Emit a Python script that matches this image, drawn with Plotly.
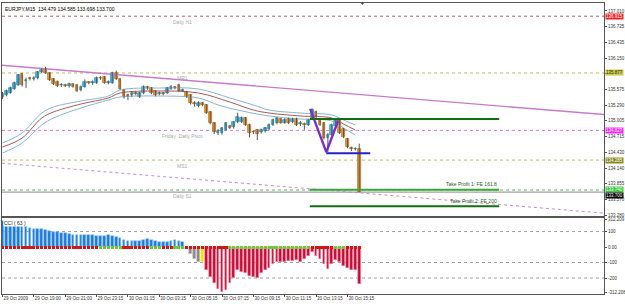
import plotly.graph_objects as go

# ---------------- data ----------------
bars = list(range(92))
opens = [135.44,135.47,135.52,135.59,135.66,135.85,135.73,135.78,135.77,135.78,
         135.89,135.95,135.87,135.76,135.72,135.65,135.66,135.64,135.67,135.66,
         135.56,135.63,135.71,135.69,135.70,135.79,135.80,135.70,135.70,135.88,
         135.76,135.57,135.47,135.47,135.51,135.44,135.51,135.61,135.60,135.54,
         135.50,135.51,135.51,135.59,135.62,135.66,135.55,135.53,135.47,135.33,
         135.28,135.33,135.29,135.16,134.96,134.78,134.78,134.84,134.90,134.89,
         134.98,134.98,135.05,134.93,134.80,134.83,134.80,134.82,134.85,134.93,
         134.96,135.03,134.97,135.03,134.98,135.04,134.94,134.95,134.93,135.05,
         135.17,135.03,134.96,134.69,134.75,134.90,135.02,134.85,134.67,134.50,
         134.48,134.479]
highs = [135.53,135.57,135.63,135.72,135.86,135.88,135.79,135.81,135.82,135.91,
         135.96,135.99,135.89,135.78,135.74,135.69,135.68,135.70,135.69,135.67,
         135.65,135.76,135.73,135.74,135.81,135.82,135.82,135.74,135.90,135.92,
         135.78,135.58,135.50,135.54,135.54,135.53,135.65,135.64,135.62,135.56,
         135.54,135.53,135.62,135.66,135.64,135.68,135.59,135.55,135.49,135.36,
         135.36,135.35,135.31,135.18,134.98,134.85,134.89,134.98,134.93,135.00,
         135.15,135.08,135.07,134.95,134.83,134.85,134.86,134.89,134.95,135.04,
         135.07,135.05,135.05,135.06,135.06,135.06,135.00,134.97,135.04,135.23,
         135.19,135.05,134.98,134.78,134.95,135.04,135.05,134.87,134.69,134.53,
         134.52,134.585]
lows = [135.40,135.45,135.50,135.57,135.64,135.63,135.60,135.74,135.74,135.76,
        135.87,135.86,135.73,135.66,135.62,135.62,135.62,135.61,135.61,135.53,
        135.54,135.61,135.67,135.66,135.68,135.75,135.68,135.67,135.68,135.75,
        135.57,135.41,135.38,135.44,135.47,135.42,135.49,135.57,135.49,135.45,
        135.47,135.47,135.49,135.57,135.58,135.53,135.53,135.42,135.30,135.26,
        135.25,135.27,135.13,134.94,134.76,134.74,134.75,134.82,134.85,134.86,
        134.96,134.96,134.91,134.70,134.76,134.65,134.77,134.79,134.83,134.91,
        134.94,134.95,134.95,134.94,134.96,134.91,134.91,134.84,134.91,135.03,
        135.05,134.91,134.66,134.43,134.73,134.88,134.76,134.69,134.50,134.45,
        134.46,133.698]
closes = [135.50,135.55,135.60,135.69,135.84,135.66,135.75,135.77,135.79,135.89,
          135.93,135.88,135.75,135.68,135.64,135.66,135.64,135.67,135.63,135.55,
          135.63,135.71,135.70,135.72,135.79,135.78,135.70,135.72,135.88,135.77,
          135.59,135.44,135.46,135.51,135.50,135.51,135.62,135.60,135.51,135.47,
          135.51,135.50,135.60,135.62,135.61,135.55,135.56,135.44,135.33,135.31,
          135.33,135.29,135.15,134.96,134.80,134.82,134.87,134.96,134.88,134.98,
          135.07,135.05,134.93,134.78,134.79,134.76,134.83,134.87,134.93,135.02,
          135.05,134.97,135.02,134.96,135.04,134.93,134.97,134.93,135.02,135.20,
          135.07,134.93,134.69,134.75,134.93,135.02,134.78,134.71,134.52,134.48,
          134.49,133.700]

cci = [168,170,165,160,160,150,135,125,118,118,115,110,105,97,95,92,88,84,80,80,
       78,77,76,75,74,74,74,76,68,62,55,45,40,38,38,40,45,52,48,40,35,33,34,38,45,
       38,30,-15,-45,-75,-95,-95,-150,-195,-232,-270,-290,-275,-230,-200,-150,-160,
       -165,-185,-195,-200,-170,-150,-135,-110,-100,-100,-95,-92,-88,-85,-95,-80,
       -60,-35,-55,-75,-110,-140,-110,-85,-95,-125,-135,-150,-150,-240]
# 1 = green state, 0 = red state (markers on the zero line)
cci_state = [0,0,0,0,0,0,0,0,0,0,0,0,0,0,0,0,0,0,0,0,0,0,0,0,0,
             1,1,1,1,1,1, 0,0,0,0,0,0,0, 1,1,1, 0,0,0, 1,1,1,
             0,0,0,0,0,0,0,0,0,0,0,
             1,1,1,1,1,1,1,1,1,1,1,1,1,1,1,1,1,1,1,1,1,
             0,0,0,0,0,0, 1,1,1, 0,0,0,0]

# moving-average envelope (bar index, price)
env_top_k = [0, 5, 10, 13, 20, 27, 30, 40, 50, 58, 64, 68, 76, 84, 87, 90]
env_top_p = [134.597,134.780,135.145,135.255,135.365,135.456,135.566,135.602,
             135.584,135.420,135.292,135.200,135.145,135.109,135.017,134.926]
env_mid_k = [0, 5, 10, 13, 20, 27, 30, 40, 50, 58, 64, 68, 76, 84, 87, 90]
env_mid_p = [134.524,134.688,135.054,135.164,135.310,135.420,135.511,135.548,
             135.511,135.346,135.200,135.145,135.091,135.054,134.944,134.835]
env_bot_k = [0, 5, 10, 13, 20, 27, 30, 40, 50, 55, 60, 68, 76, 84, 87, 90]
env_bot_p = [134.414,134.597,134.926,135.054,135.237,135.383,135.438,135.456,
             135.420,135.292,135.200,135.091,135.036,134.999,134.871,134.743]

trend_up_k = [-0.2, 153.5]
trend_up_p = [136.020, 135.117]
trend_dn_k = [-0.2, 153.5]
trend_dn_p = [134.228, 133.315]

pattern_k = [78.5, 82.6, 85.6]
pattern_p = [135.220, 134.430, 135.000]
neck_k = [82.6, 93.8]
neck_p = [134.412, 134.412]

entry_k = [78.4, 126.7]
entry_p = 135.036
tp1_p = 133.742
tp2_p = 133.440
tp1_text = "Take Profit 1: FE 161.8"
tp2_text = "Take Profit 2: FE 200"

pivot_names = ["Daily H1", "MR1", "Friday  Daily Pivot", "MS1", "Daily S1"]
pivot_prices = [136.915, 135.877, 134.827, 134.285, 133.738]
pivot_box_text = ["136.915", "135.877", "134.827", "134.285", "133.740"]
bid_price = 133.700

price_ticks = [137.010, 136.725, 136.435, 136.150, 135.860, 135.575, 135.290,
               135.005, 134.715, 134.430, 134.140, 133.855, 133.570, 133.280]
price_tick_text = ["137.010", "136.725", "136.435", "136.150", "", "135.575", "135.290",
                   "135.005", "134.715", "134.430", "134.140", "133.855", "133.570", "133.280"]
cci_ticks = [178, 100, 0, -100, -200, -296]
cci_tick_text = ["312.209", "100", "0.00", "-100", "-200", "-312.208"]

time_ticks = [0, 8, 16, 24, 32, 40, 48, 56, 64, 72, 80, 88]
time_labels = ["29 Oct 2009", "29 Oct 19:00", "29 Oct 21:00", "29 Oct 23:15",
               "30 Oct 01:15", "30 Oct 03:15", "30 Oct 05:15", "30 Oct 07:15",
               "30 Oct 09:15", "30 Oct 11:15", "30 Oct 13:15", "30 Oct 15:15"]

header = "EURJPY,M15  134.479 134.585 133.698 133.700"

# ---------------- styles ----------------
FONT = "Liberation Sans"
FS = 5
FS_AX = 4.5
X_RANGE = [-0.13, 153.44]
Y_RANGE = [133.263, 137.156]
CCI_RANGE = [-303, 187]

fig = go.Figure()

for kk, pp, col in [(env_top_k, env_top_p, "#86b4cc"),
                    (env_mid_k, env_mid_p, "#a65a58"),
                    (env_bot_k, env_bot_p, "#86b4cc")]:
    fig.add_trace(go.Scatter(x=kk, y=pp, mode="lines", line=dict(color=col, width=1, shape="spline"),
                             xaxis="x", yaxis="y", hoverinfo="skip"))

fig.add_trace(go.Scatter(x=trend_up_k, y=trend_up_p, mode="lines",
                         line=dict(color="#c87ac8", width=1.4), xaxis="x", yaxis="y"))
fig.add_trace(go.Scatter(x=trend_dn_k, y=trend_dn_p, mode="lines",
                         line=dict(color="#c98ac9", width=1, dash="dot"), xaxis="x", yaxis="y"))

wx, wy = [], []
for k, h, l in zip(bars, highs, lows):
    wx += [k, k, None]
    wy += [l, h, None]
fig.add_trace(go.Scatter(x=wx, y=wy, mode="lines", line=dict(color="#555555", width=1),
                         xaxis="x", yaxis="y", hoverinfo="skip"))

up = [c >= o for o, c in zip(opens, closes)]
base = [min(o, c) for o, c in zip(opens, closes)]
hgt = [max(abs(c - o), 0.012) for o, c in zip(opens, closes)]
fig.add_trace(go.Bar(x=bars, y=hgt, base=base, width=0.7,
                     marker=dict(color=["#3ec0ee" if u else "#f59a2e" for u in up],
                                 line=dict(color=["#2a86b0" if u else "#b0620f" for u in up], width=0.7)),
                     xaxis="x", yaxis="y"))

fig.add_trace(go.Scatter(x=pattern_k, y=pattern_p, mode="lines",
                         line=dict(color="#7a2fc4", width=2.4), xaxis="x", yaxis="y"))
fig.add_trace(go.Scatter(x=neck_k, y=neck_p, mode="lines",
                         line=dict(color="#2323c8", width=2), xaxis="x", yaxis="y"))
fig.add_trace(go.Scatter(x=entry_k, y=[entry_p, entry_p], mode="lines",
                         line=dict(color="#136d13", width=2), xaxis="x", yaxis="y"))
fig.add_trace(go.Scatter(x=entry_k, y=[tp1_p, tp1_p], mode="lines",
                         line=dict(color="#39a839", width=2), xaxis="x", yaxis="y"))
fig.add_trace(go.Scatter(x=entry_k, y=[tp2_p, tp2_p], mode="lines",
                         line=dict(color="#136d13", width=2), xaxis="x", yaxis="y"))

fig.add_trace(go.Scatter(x=[91.8], y=[Y_RANGE[1]], mode="markers", cliponaxis=False,
                         marker=dict(symbol="triangle-down", size=4, color="#444"),
                         xaxis="x", yaxis="y"))

cci_cols, cci_lines = [], []
for k, v in enumerate(cci):
    if v >= 0:
        cci_cols.append("#2079d8"); cci_lines.append("#8cc4f0")
    elif k < 51:
        cci_cols.append("#8a8a8a"); cci_lines.append("#c8c8c8")
    elif k == 51:
        cci_cols.append("#f2e600"); cci_lines.append("#f8f080")
    else:
        cci_cols.append("#c40c3a"); cci_lines.append("#f4a0b4")
fig.add_trace(go.Bar(x=bars, y=cci, width=0.7,
                     marker=dict(color=cci_cols, line=dict(color=cci_lines, width=0.6)),
                     xaxis="x2", yaxis="y2"))
fig.add_trace(go.Bar(x=bars, y=[18] * len(bars), base=[-14] * len(bars), width=0.8,
                     marker=dict(color=["#6cc83c" if s else "#d01818" for s in cci_state],
                                 line=dict(width=0)),
                     xaxis="x2", yaxis="y2"))

shapes = []
annotations = []
pivot_line_cols = ["#b06060", "#bcbc66", "#e07ae0", "#bcbc66", "#66b066"]
box_bg = ["#ee2222", "#c8c850", "#ff22ff", "#8a8a20", "#3cc43c"]
box_fg = ["white", "#333300", "white", "white", "white"]
box_shift = [0, 0, 0, 0, 1]
for name, p, lc, bg, fg, bt, ys in zip(pivot_names, pivot_prices, pivot_line_cols, box_bg, box_fg,
                                       pivot_box_text, box_shift):
    shapes.append(dict(type="line", xref="x domain", yref="y", x0=0, x1=1, y0=p, y1=p,
                       line=dict(color=lc, width=1, dash="dot"), layer="below"))
    annotations.append(dict(x=45.8, y=p, xref="x", yref="y", text=name, showarrow=False,
                            xanchor="center", yanchor="top", yshift=-0.5,
                            font=dict(family=FONT, size=FS, color="#a8a8a8")))
    annotations.append(dict(x=1, y=p, xref="paper", yref="y", text=bt, showarrow=False,
                            xanchor="left", yanchor="middle", xshift=1, yshift=ys,
                            bgcolor=bg, borderpad=0,
                            font=dict(family=FONT, size=FS_AX, color=fg)))
shapes.append(dict(type="line", xref="x domain", yref="y", x0=0, x1=1, y0=bid_price, y1=bid_price,
                   line=dict(color="#8a8a8a", width=1), layer="below"))
annotations.append(dict(x=1, y=bid_price, xref="paper", yref="y", text="133.700", showarrow=False,
                        xanchor="left", yanchor="top", xshift=1, yshift=0, bgcolor="black", borderpad=0,
                        font=dict(family=FONT, size=FS_AX, color="white")))
for lv in [100, -100, -200]:
    shapes.append(dict(type="line", xref="x2 domain", yref="y2", x0=0, x1=1, y0=lv, y1=lv,
                       line=dict(color="#a0a0a0", width=1, dash="dot"), layer="below"))

annotations.append(dict(x=entry_k[1], y=tp1_p, xref="x", yref="y", text=tp1_text, showarrow=False,
                        xanchor="right", yanchor="bottom", yshift=0.5,
                        font=dict(family=FONT, size=FS, color="#2d5a2d")))
annotations.append(dict(x=entry_k[1], y=tp2_p, xref="x", yref="y", text=tp2_text, showarrow=False,
                        xanchor="right", yanchor="bottom", yshift=0.5,
                        font=dict(family=FONT, size=FS, color="#2d5a2d")))
annotations.append(dict(x=0, y=1, xref="paper", yref="paper", text=header, showarrow=False,
                        xanchor="left", yanchor="top", xshift=1, yshift=-1,
                        font=dict(family=FONT, size=5, color="black")))
annotations.append(dict(x=0, y=1, xref="paper", yref="y2 domain", text="CCI ( 63 )", showarrow=False,
                        xanchor="left", yanchor="top", xshift=1, yshift=-1, bgcolor="white", borderpad=0,
                        font=dict(family=FONT, size=FS, color="#222")))

axis_common = dict(showgrid=False, zeroline=False, showline=True, mirror=True,
                   linecolor="#555555", linewidth=1, automargin=False)

fig.update_layout(
    width=625, height=307,
    margin=dict(l=2, r=21, t=3, b=13, autoexpand=False),
    paper_bgcolor="white", plot_bgcolor="white",
    showlegend=False, barmode="overlay", bargap=0,
    font=dict(family=FONT, size=FS_AX, color="#333"),
    xaxis=dict(range=X_RANGE, domain=[0, 1], anchor="y", showticklabels=False, ticks="", **axis_common),
    yaxis=dict(range=Y_RANGE, domain=[0.268, 1], anchor="x", side="right",
               tickvals=price_ticks, ticktext=price_tick_text,
               ticks="outside", ticklen=2, tickcolor="#555",
               tickfont=dict(family=FONT, size=FS_AX, color="#333"), **axis_common),
    xaxis2=dict(range=X_RANGE, domain=[0, 1], anchor="y2", matches="x",
                tickvals=time_ticks, ticktext=time_labels, ticks="outside", ticklen=2, tickcolor="#555",
                ticklabelposition="outside right", tickangle=0,
                tickfont=dict(family=FONT, size=FS_AX, color="#333"), **axis_common),
    yaxis2=dict(range=CCI_RANGE, domain=[0, 0.261], anchor="x2", side="right",
                tickvals=cci_ticks, ticktext=cci_tick_text, ticks="outside", ticklen=2, tickcolor="#555",
                tickfont=dict(family=FONT, size=FS_AX, color="#333"), **axis_common),
    shapes=shapes, annotations=annotations,
)

fig.write_html("out.html")
